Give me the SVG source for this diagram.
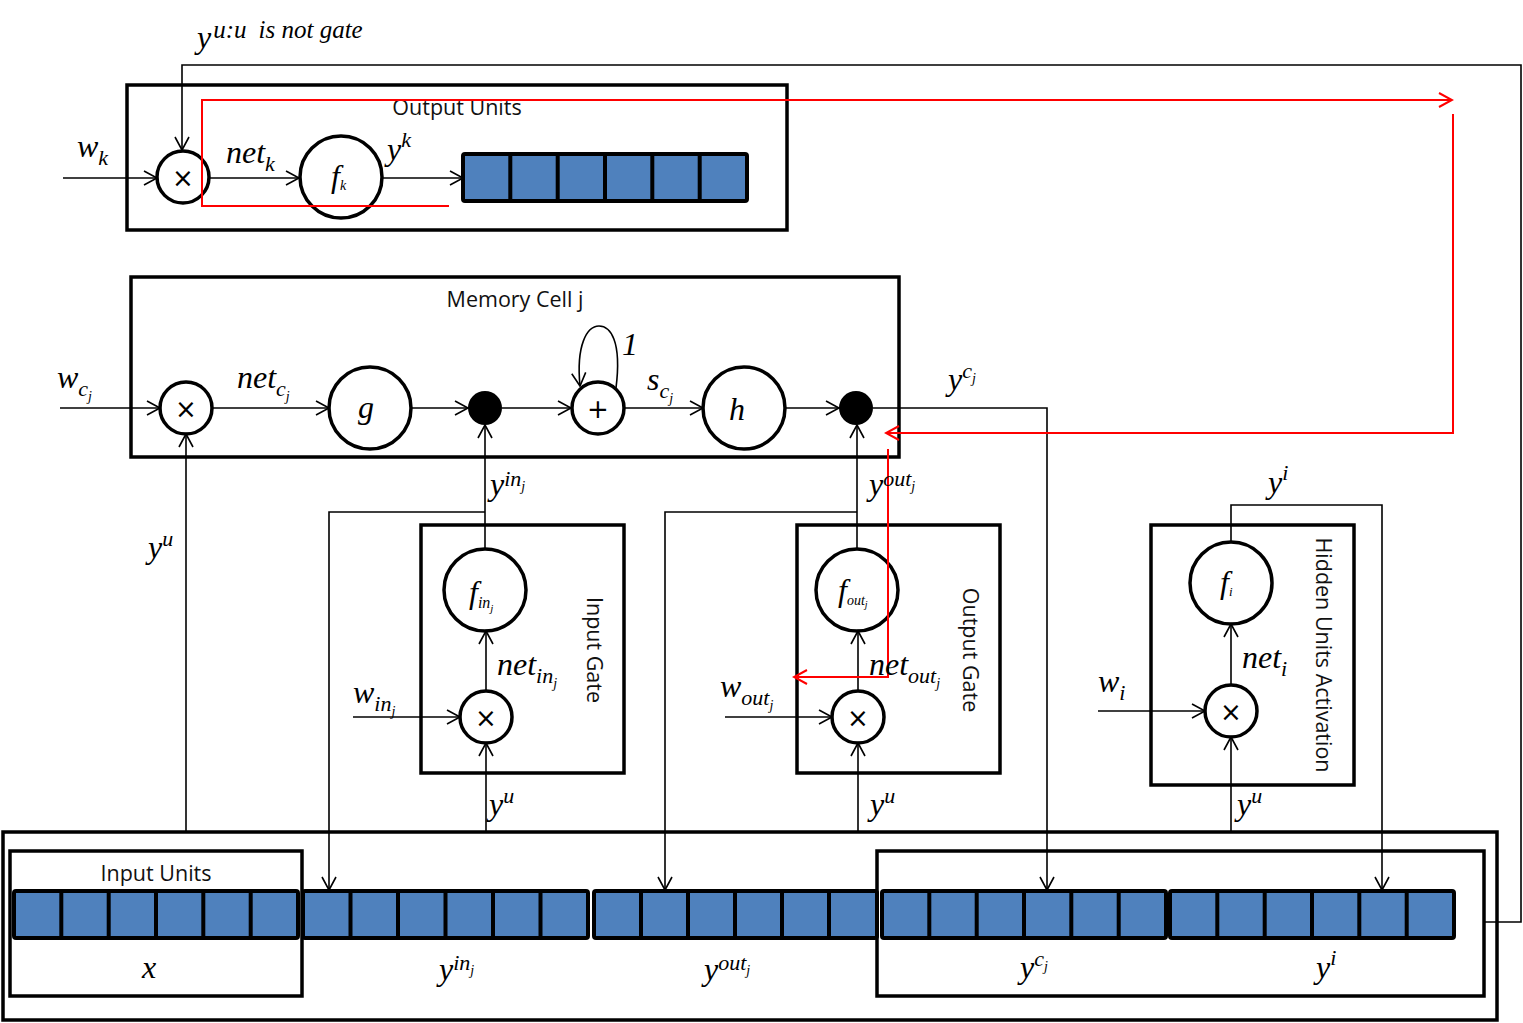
<svg xmlns="http://www.w3.org/2000/svg" width="1523" height="1023" viewBox="0 0 1523 1023">
<style>
.box{fill:none;stroke:#000;stroke-width:3.5}
.node{fill:#fff;stroke:#000;stroke-width:3.5}
.ln{fill:none;stroke:#000;stroke-width:1.6}
.red{fill:none;stroke:#f00;stroke-width:2}
.dot{fill:#000}
.bar{fill:#4F81BD;stroke:#000;stroke-width:4}
.sep{stroke:#000;stroke-width:4}
.lbl{font-family:"Open Sans","Liberation Sans",sans-serif;font-size:21.5px;fill:#111}
.m{font-family:"Liberation Serif","Times New Roman",serif;font-style:italic;font-size:32px;fill:#000}
.s{font-size:22px}
.ss{font-size:14px}
.op{font-family:"DejaVu Sans","Liberation Sans",sans-serif;font-size:26px;text-anchor:middle}
</style>
<defs>
<marker id="a" viewBox="-15 -9 17 18" refX="0" refY="0" markerWidth="17" markerHeight="18" orient="auto" markerUnits="userSpaceOnUse"><path d="M-13,-7 L0,0 L-13,7" fill="none" stroke="#000" stroke-width="1.6"/></marker>
<marker id="r" viewBox="-15 -9 17 18" refX="0" refY="0" markerWidth="17" markerHeight="18" orient="auto" markerUnits="userSpaceOnUse"><path d="M-13,-7 L0,0 L-13,7" fill="none" stroke="#f00" stroke-width="2"/></marker>
</defs>
<rect width="1523" height="1023" fill="#fff"/>

<!-- Output Units -->
<g id="output-units">
<rect class="box" x="127" y="85" width="660" height="145"/>
<text class="lbl" x="457" y="115" text-anchor="middle">Output Units</text>
<circle class="node" cx="183" cy="177" r="26"/>
<text class="op" x="183" y="187">×</text>
<circle class="node" cx="341" cy="177" r="41"/>
<text class="m" x="331" y="187" font-size="21">f<tspan class="ss" dy="3">k</tspan></text>
<rect class="bar" x="463" y="154" width="284" height="47" rx="2"/>
<path class="sep" d="M510.3,154V201M557.7,154V201M605,154V201M652.3,154V201M699.7,154V201"/>
</g>

<!-- Memory Cell -->
<g id="memory-cell">
<rect class="box" x="131" y="277" width="768" height="180"/>
<text class="lbl" x="515" y="307" text-anchor="middle">Memory Cell j</text>
<circle class="node" cx="186" cy="408" r="26"/>
<text class="op" x="186" y="418">×</text>
<circle class="node" cx="370" cy="408" r="41"/>
<text class="m" x="358" y="418" font-size="35">g</text>
<circle class="dot" cx="485" cy="408" r="17"/>
<circle class="node" cx="598" cy="408" r="26"/>
<text class="op" x="598" y="418">+</text>
<circle class="node" cx="744" cy="408" r="41"/>
<text class="m" x="729" y="420">h</text>
<circle class="dot" cx="856" cy="408" r="17"/>
</g>

<!-- Input Gate -->
<g id="input-gate">
<rect class="box" x="421" y="525" width="203" height="248"/>
<text class="lbl" transform="translate(587,650) rotate(90)" text-anchor="middle">Input Gate</text>
<circle class="node" cx="485" cy="590" r="41"/>
<text class="m" x="469" y="603" font-size="24">f<tspan font-size="16" dy="5">in</tspan><tspan font-size="11" dy="4">j</tspan></text>
<circle class="node" cx="486" cy="717" r="26"/>
<text class="op" x="486" y="727">×</text>
</g>

<!-- Output Gate -->
<g id="output-gate">
<rect class="box" x="797" y="525" width="203" height="248"/>
<text class="lbl" transform="translate(963,650) rotate(90)" text-anchor="middle">Output Gate</text>
<circle class="node" cx="857" cy="590" r="41"/>
<text class="m" x="838" y="601" font-size="22">f<tspan font-size="14" dy="4">out</tspan><tspan font-size="10" dy="3">j</tspan></text>
<circle class="node" cx="858" cy="717" r="26"/>
<text class="op" x="858" y="727">×</text>
</g>

<!-- Hidden Units Activation -->
<g id="hidden-units">
<rect class="box" x="1151" y="525" width="203" height="260"/>
<text class="lbl" transform="translate(1316,655) rotate(90)" text-anchor="middle">Hidden Units Activation</text>
<circle class="node" cx="1231" cy="583" r="41"/>
<text class="m" x="1220" y="593" font-size="21">f<tspan font-size="13" dy="3">i</tspan></text>
<circle class="node" cx="1231" cy="711" r="26"/>
<text class="op" x="1231" y="721">×</text>
</g>

<!-- Bottom: Input units / layers -->
<g id="input-layer">
<rect class="box" x="3" y="832" width="1494" height="188"/>
<rect class="bar" x="14" y="891" width="284" height="47" rx="2"/>
<path class="sep" d="M61.3,891V938M108.7,891V938M156,891V938M203.3,891V938M250.7,891V938"/>
<rect class="bar" x="303" y="891" width="285" height="47" rx="2"/>
<path class="sep" d="M350.5,891V938M398,891V938M445.5,891V938M493,891V938M540.5,891V938"/>
<rect class="bar" x="594" y="891" width="283" height="47" rx="2"/>
<path class="sep" d="M641,891V938M688,891V938M735,891V938M782,891V938M829,891V938"/>
<rect class="bar" x="882" y="891" width="284" height="47" rx="2"/>
<path class="sep" d="M929.3,891V938M976.7,891V938M1024,891V938M1071.3,891V938M1118.7,891V938"/>
<rect class="bar" x="1170" y="891" width="284" height="47" rx="2"/>
<path class="sep" d="M1217.3,891V938M1264.7,891V938M1312,891V938M1359.3,891V938M1406.7,891V938"/>
</g>
<g id="input-units">
<rect class="box" x="10" y="851" width="292" height="145"/>
<text class="lbl" x="156" y="881" text-anchor="middle">Input Units</text>
<text class="m" x="142" y="978">x</text>
</g>
<g id="recurrent-units">
<rect class="box" x="877" y="851" width="607" height="145"/>
</g>

<!-- Connectors -->
<g id="connectors">
<path class="ln" d="M1485,922H1521V65H182V150" marker-end="url(#a)"/>
<path class="ln" d="M63,178H157" marker-end="url(#a)"/>
<path class="ln" d="M209,178H299" marker-end="url(#a)"/>
<path class="ln" d="M382,178H463" marker-end="url(#a)"/>

<path class="ln" d="M60,408H160" marker-end="url(#a)"/>
<path class="ln" d="M212,408H329" marker-end="url(#a)"/>
<path class="ln" d="M411,408H468" marker-end="url(#a)"/>
<path class="ln" d="M502,408H571" marker-end="url(#a)"/>
<path class="ln" d="M616,388C622,340 610,326 599,326C587,326 576,345 580,386" marker-end="url(#a)"/>
<path class="ln" d="M624,408H703" marker-end="url(#a)"/>
<path class="ln" d="M785,408H839" marker-end="url(#a)"/>
<path class="ln" d="M873,408H1047V890" marker-end="url(#a)"/>
<path class="ln" d="M186,831V434" marker-end="url(#a)"/>

<path class="ln" d="M485,549V425" marker-end="url(#a)"/>
<path class="ln" d="M485,512H329V890" marker-end="url(#a)"/>
<path class="ln" d="M486,691V631" marker-end="url(#a)"/>
<path class="ln" d="M353,717H460" marker-end="url(#a)"/>
<path class="ln" d="M486,831V743" marker-end="url(#a)"/>

<path class="ln" d="M857,549V425" marker-end="url(#a)"/>
<path class="ln" d="M857,512H665V890" marker-end="url(#a)"/>
<path class="ln" d="M858,691V631" marker-end="url(#a)"/>
<path class="ln" d="M725,717H832" marker-end="url(#a)"/>
<path class="ln" d="M858,831V743" marker-end="url(#a)"/>

<path class="ln" d="M1231,542V505H1382V890" marker-end="url(#a)"/>
<path class="ln" d="M1231,685V624" marker-end="url(#a)"/>
<path class="ln" d="M1098,711H1205" marker-end="url(#a)"/>
<path class="ln" d="M1231,831V737" marker-end="url(#a)"/>

<path class="red" d="M449,206H202V100H1452" marker-end="url(#r)"/>
<path class="red" d="M1453,114V433H886" marker-end="url(#r)"/>
<path class="red" d="M888,449V677H794" marker-end="url(#r)"/>
</g>

<!-- Labels -->
<g id="labels">
<text class="m" x="197" y="48">y<tspan font-size="25" dx="2" dy="-10">u:u</tspan><tspan font-size="25" dx="12">is not gate</tspan></text>
<text class="m" x="77" y="157">w<tspan class="s" dy="8">k</tspan></text>
<text class="m" x="226" y="163">net<tspan class="s" dy="8">k</tspan></text>
<text class="m" x="387" y="160">y<tspan class="s" dy="-13">k</tspan></text>

<text class="m" x="57" y="388">w<tspan class="s" dy="8">c</tspan><tspan class="ss" dy="5">j</tspan></text>
<text class="m" x="237" y="388">net<tspan class="s" dy="8">c</tspan><tspan class="ss" dy="5">j</tspan></text>
<text class="m" x="622" y="355">1</text>
<text class="m" x="647" y="390">s<tspan class="s" dy="8">c</tspan><tspan class="ss" dy="5">j</tspan></text>
<text class="m" x="948" y="390">y<tspan class="s" dy="-12">c</tspan><tspan class="ss" dy="5">j</tspan></text>

<text class="m" x="148" y="558">y<tspan class="s" dy="-12">u</tspan></text>

<text class="m" x="490" y="495">y<tspan class="s" dy="-9">in</tspan><tspan class="ss" dy="5">j</tspan></text>
<text class="m" x="497" y="675">net<tspan class="s" dy="8">in</tspan><tspan class="ss" dy="5">j</tspan></text>
<text class="m" x="353" y="703" font-size="30">w<tspan class="s" dy="8">in</tspan><tspan class="ss" dy="5">j</tspan></text>
<text class="m" x="489" y="815">y<tspan class="s" dy="-12">u</tspan></text>

<text class="m" x="869" y="495">y<tspan class="s" dy="-9">out</tspan><tspan class="ss" dy="5">j</tspan></text>
<text class="m" x="869" y="675">net<tspan class="s" dy="8">out</tspan><tspan class="ss" dy="5">j</tspan></text>
<text class="m" x="720" y="697" font-size="30">w<tspan class="s" dy="8">out</tspan><tspan class="ss" dy="5">j</tspan></text>
<text class="m" x="870" y="815">y<tspan class="s" dy="-12">u</tspan></text>

<text class="m" x="1268" y="493">y<tspan class="s" dy="-13">i</tspan></text>
<text class="m" x="1242" y="668">net<tspan class="s" dy="8">i</tspan></text>
<text class="m" x="1098" y="692">w<tspan class="s" dy="8">i</tspan></text>
<text class="m" x="1237" y="815">y<tspan class="s" dy="-12">u</tspan></text>

<text class="m" x="439" y="980">y<tspan class="s" dy="-10">in</tspan><tspan class="ss" dy="5">j</tspan></text>
<text class="m" x="704" y="980">y<tspan class="s" dy="-10">out</tspan><tspan class="ss" dy="5">j</tspan></text>
<text class="m" x="1020" y="978">y<tspan class="s" dy="-12">c</tspan><tspan class="ss" dy="5">j</tspan></text>
<text class="m" x="1316" y="978">y<tspan class="s" dy="-13">i</tspan></text>
</g>
</svg>
